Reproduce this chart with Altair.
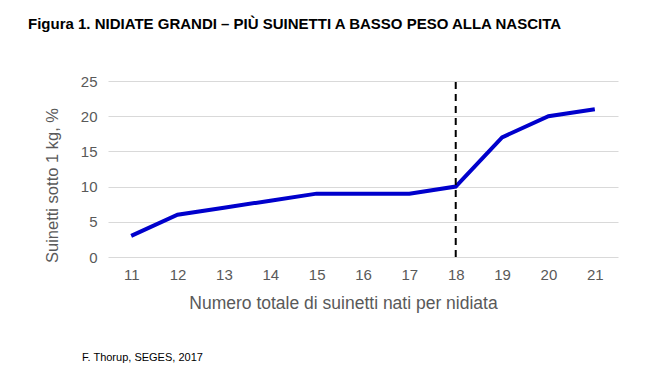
import altair as alt
import pandas as pd

nati = [11, 12, 13, 14, 15, 16, 17, 18, 19, 20, 21]
perc = [3, 6, 7, 8, 9, 9, 9, 10, 17, 20, 21]
soglia = [18]
y_ticks = [0, 5, 10, 15, 20, 25]
titolo = ["Figura 1. NIDIATE GRANDI – PIÙ SUINETTI A BASSO PESO ALLA NASCITA"]
fonte = ["F. Thorup, SEGES, 2017"]

df = pd.DataFrame({"nati": nati, "perc": perc})
df_rule = pd.DataFrame({"nati": soglia, "perc": [0], "y1": [25]})
df_title = pd.DataFrame({"t": titolo})
df_src = pd.DataFrame({"t": fonte})

FONT = "Liberation Sans"
GRAY = "#595959"

xscale = alt.Scale(domain=[10.5, 21.5], nice=False, zero=False)
yscale = alt.Scale(domain=[0, 25], nice=False)

xaxis = alt.Axis(
    title="Numero totale di suinetti nati per nidiata",
    values=nati, format="d",
    labelAngle=0, labelFontSize=15, labelColor=GRAY, labelFont=FONT,
    labelPadding=10, domain=False, ticks=False, grid=False,
    labelOverlap=False, labelFlush=False,
    titleFontSize=17.5, titleColor=GRAY, titleFont=FONT, titleFontWeight="normal",
    titleX=235, titleY=46, titleBaseline="middle", titleAlign="center",
)

yaxis = alt.Axis(
    title="Suinetti sotto 1 kg, %",
    values=y_ticks,
    labelFontSize=15, labelColor=GRAY, labelFont=FONT, labelPadding=11,
    labelOverlap=False, labelFlush=False,
    domain=False, ticks=False, grid=True, gridColor="#D9D9D9", gridWidth=1,
    titleFontSize=16.5, titleColor=GRAY, titleFont=FONT, titleFontWeight="normal",
    titleX=-51, titleY=104, titleAngle=-90, titleAlign="center",
    titleBaseline="alphabetic",
)

line = alt.Chart(df).mark_line(color="#0000CC", strokeWidth=4, strokeCap="butt").encode(
    x=alt.X("nati:Q", scale=xscale, axis=xaxis),
    y=alt.Y("perc:Q", scale=yscale, axis=yaxis),
)

rule = alt.Chart(df_rule).mark_rule(color="black", strokeWidth=2, strokeDash=[7, 5]).encode(
    x=alt.X("nati:Q", scale=xscale, axis=xaxis),
    y=alt.Y("perc:Q", scale=yscale, axis=yaxis),
    y2="y1:Q",
)

title = alt.Chart(df_title).mark_text(
    align="left", baseline="middle", font=FONT, fontSize=15, fontWeight="bold", color="black"
).encode(x=alt.value(-80), y=alt.value(-57), text="t:N")

src = alt.Chart(df_src).mark_text(
    align="left", baseline="middle", font=FONT, fontSize=11, color="black"
).encode(x=alt.value(-26), y=alt.value(277), text="t:N")

chart = (
    alt.layer(line, rule, title, src)
    .properties(
        width=510,
        height=176,
        autosize=alt.AutoSizeParams(type="none"),
        padding={"left": 100, "top": 73, "right": 20, "bottom": 110},
        background="white",
    )
    .configure_view(stroke=None)
)

chart.save("out.html", embed_options={"renderer": "svg", "actions": False})
